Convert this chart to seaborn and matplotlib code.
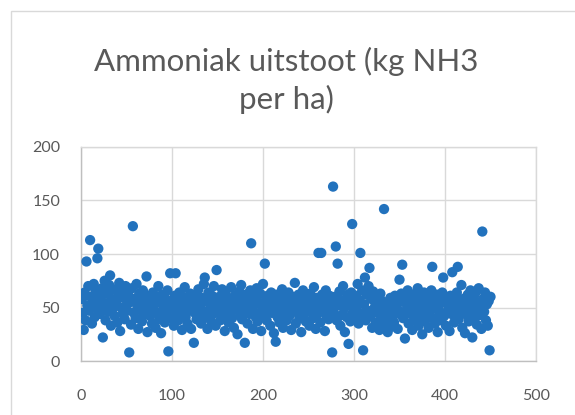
import numpy as np
import pandas as pd
import matplotlib
matplotlib.use('Agg')
import matplotlib.pyplot as plt
import seaborn as sns
from matplotlib.patches import Rectangle

# Ammoniak uitstoot per bedrijf (index 1..450), kg NH3 per ha
uitstoot = [
    58, 45, 29, 64, 38, 93, 52, 70, 47, 113, 60, 35, 55, 72, 41, 66, 50, 96, 105, 62, 44, 57, 68, 22, 49,
    75, 38, 54, 63, 46, 71, 80, 33, 58, 49, 67, 42, 55, 57, 36, 61, 73, 28, 50, 65, 44, 59, 39, 70, 52,
    47, 62, 8, 55, 34, 68, 126, 45, 58, 40, 72, 51, 30, 63, 48, 56, 37, 66, 44, 53, 61, 79, 27, 50, 59,
    42, 57, 35, 64, 48, 53, 31, 60, 45, 70, 39, 55, 26, 62, 47, 51, 36, 58, 43, 66, 9, 54, 82, 40, 49,
    57, 33, 61, 82, 46, 52, 38, 64, 44, 55, 29, 60, 48, 69, 41, 53, 35, 58, 47, 63, 30, 50, 56, 17, 45,
    62, 39, 54, 67, 43, 51, 35, 59, 46, 72, 78, 41, 56, 30, 64, 48, 53, 37, 61, 44, 70, 50, 33, 85, 57,
    46, 60, 38, 52, 67, 42, 55, 28, 63, 47, 50, 36, 58, 44, 69, 40, 54, 31, 61, 48, 56, 25, 52, 65, 43,
    71, 39, 58, 46, 17, 62, 50, 35, 57, 44, 66, 110, 48, 30, 60, 53, 41, 68, 37, 55, 45, 63, 28, 51, 72,
    43, 91, 56, 38, 61, 47, 52, 33, 64, 45, 58, 26, 50, 18, 62, 41, 55, 36, 59, 48, 67, 31, 53, 44, 60,
    38, 51, 64, 42, 56, 29, 60, 47, 53, 73, 35, 58, 45, 62, 40, 50, 27, 57, 66, 43, 54, 37, 61, 48, 52,
    33, 63, 46, 57, 40, 69, 51, 30, 59, 44, 101, 55, 36, 101, 62, 48, 53, 28, 66, 42, 58, 39, 61, 47, 54,
    8, 163, 45, 60, 107, 38, 91, 52, 65, 33, 56, 43, 70, 49, 27, 58, 41, 62, 16, 53, 37, 64, 128, 46, 55,
    40, 61, 50, 72, 35, 57, 101, 44, 66, 10, 53, 78, 38, 62, 47, 70, 87, 42, 58, 31, 65, 49, 55, 36, 60,
    45, 52, 29, 63, 41, 56, 34, 142, 48, 38, 54, 27, 50, 43, 59, 32, 47, 55, 36, 61, 44, 52, 30, 57, 76,
    46, 63, 90, 40, 55, 21, 60, 48, 66, 35, 52, 44, 58, 29, 62, 50, 38, 57, 45, 68, 33, 54, 41, 60, 25,
    49, 64, 37, 56, 43, 61, 31, 53, 47, 66, 88, 40, 58, 35, 52, 62, 27, 50, 45, 57, 38, 64, 78, 42, 55,
    33, 59, 47, 52, 28, 61, 44, 83, 50, 36, 57, 42, 64, 88, 39, 53, 46, 71, 31, 58, 49, 26, 55, 43, 62,
    37, 51, 66, 45, 22, 57, 40, 63, 48, 34, 55, 68, 43, 52, 30, 121, 58, 46, 64, 38, 53, 33, 56, 10, 60,
]
bedrijf = list(range(1, len(uitstoot) + 1))
x_ticks = [0, 100, 200, 300, 400, 500]
y_ticks = [0, 50, 100, 150, 200]

df = pd.DataFrame({'bedrijf': bedrijf, 'uitstoot': uitstoot})

sns.set_style('white')
plt.rcParams['font.family'] = ['Lato', 'DejaVu Sans']

W, H = 575, 415
fig = plt.figure(figsize=(W / 100, H / 100), dpi=100)
ax = fig.add_axes([81 / W, 1 - 361 / H, (536 - 81) / W, (361 - 147) / H])

sns.scatterplot(data=df, x='bedrijf', y='uitstoot', ax=ax, color='#2272BD',
                s=55, edgecolor='none', linewidth=0, legend=False, zorder=3)

ax.set_xlim(0, 500)
ax.set_ylim(0, 200)
ax.set_xticks(x_ticks)
ax.set_yticks(y_ticks)
ax.grid(True, color='#D9D9D9', linewidth=1)
ax.set_axisbelow(True)
for s in ax.spines.values():
    s.set_color('#D9D9D9')
    s.set_linewidth(1)
ax.spines['left'].set_color('#BFBFBF')
ax.spines['bottom'].set_color('#BFBFBF')
ax.tick_params(length=0, labelsize=11.5, colors='#595959')
ax.tick_params(axis='y', pad=15)
ax.tick_params(axis='x', pad=20)
ax.set_xlabel('')
ax.set_ylabel('')

# titel, twee regels zoals in Excel
fig.text(286 / W, 1 - 61 / H, 'Ammoniak uitstoot (kg NH3', ha='center', va='center',
         fontsize=22.5, color='#595959')
fig.text(286 / W, 1 - 99 / H, 'per ha)', ha='center', va='center',
         fontsize=22.5, color='#595959')

# kader van de grafiek
fig.patches.append(Rectangle((11 / W, -0.05), 1.2, 1 - 11 / H + 0.05, transform=fig.transFigure,
                             fill=False, edgecolor='#D9D9D9', linewidth=1))

plt.savefig('out.png', dpi=100)
plt.close()
